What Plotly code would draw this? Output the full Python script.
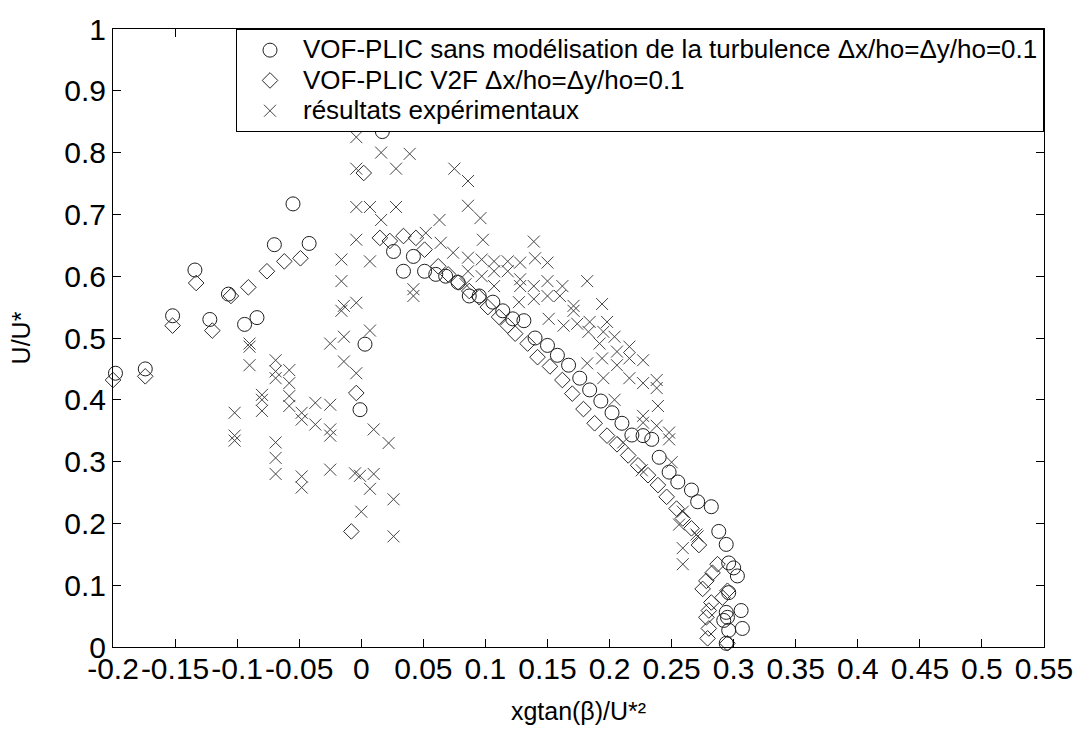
import plotly.graph_objects as go

# VOF-PLIC without turbulence model
x_sans = [-0.198, -0.174, -0.152, -0.134, -0.122, -0.107, -0.094, -0.084, -0.070, -0.055,
          -0.042, -0.001, 0.003, 0.017, 0.026, 0.034, 0.042, 0.051, 0.060, 0.068,
          0.078, 0.087, 0.095, 0.106, 0.114, 0.122, 0.131, 0.140, 0.150, 0.158,
          0.167, 0.176, 0.184, 0.193, 0.202, 0.210, 0.218, 0.227, 0.234, 0.240,
          0.248, 0.255, 0.266, 0.271, 0.282, 0.288, 0.294, 0.296, 0.300, 0.303,
          0.296, 0.306, 0.294, 0.295, 0.292, 0.307, 0.296, 0.294]
y_sans = [0.443, 0.450, 0.536, 0.610, 0.530, 0.571, 0.522, 0.533, 0.651, 0.717,
          0.653, 0.384, 0.490, 0.834, 0.640, 0.608, 0.632, 0.608, 0.603, 0.600,
          0.590, 0.568, 0.568, 0.558, 0.544, 0.531, 0.528, 0.500, 0.488, 0.472,
          0.456, 0.435, 0.416, 0.398, 0.379, 0.362, 0.343, 0.342, 0.336, 0.307,
          0.283, 0.267, 0.254, 0.235, 0.227, 0.187, 0.166, 0.136, 0.128, 0.115,
          0.088, 0.059, 0.056, 0.048, 0.043, 0.030, 0.027, 0.006]

# VOF-PLIC with V2F model
x_v2f = [-0.200, -0.174, -0.152, -0.133, -0.120, -0.105, -0.091, -0.076, -0.062, -0.049,
         -0.008, -0.004, 0.002, 0.015, 0.023, 0.034, 0.044, 0.051, 0.062, 0.070,
         0.078, 0.087, 0.095, 0.102, 0.111, 0.118, 0.124, 0.134, 0.142, 0.152,
         0.162, 0.170, 0.179, 0.188, 0.198, 0.206, 0.215, 0.223, 0.231, 0.239,
         0.246, 0.254, 0.259, 0.266, 0.272, 0.287, 0.283, 0.278, 0.275, 0.295,
         0.291, 0.282, 0.280, 0.278, 0.280, 0.279, 0.295]
y_v2f = [0.432, 0.438, 0.520, 0.589, 0.512, 0.568, 0.582, 0.608, 0.624, 0.629,
         0.187, 0.411, 0.767, 0.662, 0.657, 0.665, 0.662, 0.643, 0.616, 0.603,
         0.590, 0.576, 0.566, 0.550, 0.534, 0.520, 0.507, 0.491, 0.469, 0.454,
         0.432, 0.410, 0.385, 0.362, 0.342, 0.328, 0.310, 0.294, 0.278, 0.262,
         0.243, 0.224, 0.208, 0.192, 0.165, 0.134, 0.120, 0.107, 0.094, 0.091,
         0.080, 0.072, 0.059, 0.048, 0.030, 0.014, 0.006]

# Experimental measurements
x_exp = [-0.004, 0.016, 0.039, -0.004, 0.028, 0.075, 0.086, -0.004, 0.007, 0.028,
         0.086, 0.096, 0.016, 0.063, -0.004, 0.052, 0.064, 0.074, 0.098, 0.139,
         -0.016, 0.007, 0.086, 0.097, 0.107, 0.118, 0.128, 0.140, 0.150, 0.086,
         0.097, 0.107, 0.118, 0.128, 0.139, 0.150, 0.150, 0.042, 0.042, 0.139,
         0.127, 0.151, -0.016, -0.014, -0.004, -0.016, -0.014, 0.007, -0.025, -0.090,
         -0.090, -0.090, -0.014, -0.004, -0.069, -0.069, -0.058, -0.069, -0.058, -0.058,
         -0.080, -0.080, -0.058, -0.037, -0.025, -0.080, -0.102, -0.048, -0.048, -0.037,
         -0.025, -0.025, -0.102, -0.102, 0.010, 0.022, -0.069, -0.069, -0.069, -0.048,
         -0.025, -0.005, -0.001, 0.010, -0.048, 0.007, 0.000, 0.026, 0.026,
         0.182, 0.162, 0.160, 0.171, 0.171, 0.194, 0.163, 0.174, 0.184, 0.198,
         0.183, 0.195, 0.204, 0.192, 0.216, 0.206, 0.194, 0.182, 0.206, 0.216,
         0.227, 0.195, 0.216, 0.227, 0.238, 0.238, 0.204, 0.239, 0.227, 0.227,
         0.238, 0.248, 0.248, 0.128, 0.107, 0.084,
         0.226, 0.250, 0.259, 0.256, 0.270, 0.259, 0.259, 0.211, 0.271]
y_exp = [0.825, 0.800, 0.798, 0.774, 0.774, 0.774, 0.754, 0.712, 0.712, 0.712,
         0.714, 0.694, 0.691, 0.691, 0.659, 0.670, 0.654, 0.638, 0.659, 0.656,
         0.627, 0.624, 0.630, 0.627, 0.624, 0.624, 0.622, 0.629, 0.622, 0.608,
         0.600, 0.608, 0.608, 0.595, 0.584, 0.592, 0.568, 0.579, 0.568, 0.563,
         0.558, 0.531, 0.592, 0.552, 0.557, 0.544, 0.502, 0.512, 0.491, 0.491,
         0.486, 0.456, 0.462, 0.443, 0.464, 0.446, 0.448, 0.435, 0.427, 0.406,
         0.408, 0.400, 0.390, 0.395, 0.392, 0.382, 0.379, 0.379, 0.368, 0.360,
         0.352, 0.342, 0.342, 0.334, 0.352, 0.330, 0.331, 0.306, 0.280, 0.276,
         0.287, 0.281, 0.277, 0.280, 0.258, 0.256, 0.219, 0.239, 0.179,
         0.592, 0.584, 0.568, 0.552, 0.544, 0.555, 0.520, 0.523, 0.526, 0.526,
         0.510, 0.510, 0.502, 0.491, 0.486, 0.478, 0.467, 0.459, 0.456, 0.467,
         0.464, 0.435, 0.435, 0.427, 0.432, 0.419, 0.400, 0.390, 0.374, 0.363,
         0.358, 0.347, 0.336, 0.584, 0.584, 0.587,
         0.286, 0.299, 0.219, 0.198, 0.182, 0.160, 0.134, 0.331, 0.179]

x_ticks = [-0.2, -0.15, -0.1, -0.05, 0, 0.05, 0.1, 0.15, 0.2, 0.25, 0.3, 0.35, 0.4, 0.45, 0.5, 0.55]
x_tick_labels = ["-0.2", "-0.15", "-0.1", "-0.05", "0", "0.05", "0.1", "0.15", "0.2", "0.25",
                 "0.3", "0.35", "0.4", "0.45", "0.5", "0.55"]
y_ticks = [0, 0.1, 0.2, 0.3, 0.4, 0.5, 0.6, 0.7, 0.8, 0.9, 1]
y_tick_labels = ["0", "0.1", "0.2", "0.3", "0.4", "0.5", "0.6", "0.7", "0.8", "0.9", "1"]

series_names = [
    "VOF-PLIC sans modélisation de la turbulence Δx/ho=Δy/ho=0.1",
    "VOF-PLIC V2F Δx/ho=Δy/ho=0.1",
    "résultats expérimentaux",
]

FONT = "Liberation Sans, Arial, sans-serif"


def legend_label(text):
    # larger glyphs than the legend's base font, which keeps rows compact
    return '<span style="font-size:26px">' + text + "</span>"


fig = go.Figure()
fig.add_trace(go.Scatter(
    x=x_sans, y=y_sans, mode="markers", cliponaxis=False,
    name=legend_label(series_names[0]),
    marker=dict(symbol="circle-open", size=14, color="#1e1e1e", line=dict(width=1, color="#1e1e1e")),
))
fig.add_trace(go.Scatter(
    x=x_v2f, y=y_v2f, mode="markers", cliponaxis=False,
    name=legend_label(series_names[1]),
    marker=dict(symbol="diamond-open", size=12, color="#2a2a2a", line=dict(width=1, color="#2a2a2a")),
))
fig.add_trace(go.Scatter(
    x=x_exp, y=y_exp, mode="markers", cliponaxis=False,
    name=legend_label(series_names[2]),
    marker=dict(symbol="x-thin-open", size=12, color="#444444", line=dict(width=1, color="#444444")),
))

axis_common = dict(
    showline=True, linecolor="black", linewidth=1, mirror="ticks",
    ticks="inside", ticklen=8, tickwidth=1, tickcolor="black",
    showgrid=False, zeroline=False,
    tickfont=dict(family=FONT, size=30, color="black"),
)

fig.update_xaxes(
    range=[-0.2, 0.55], tickmode="array", tickvals=x_ticks, ticktext=x_tick_labels,
    ticklabelstandoff=-5,
    title=dict(text="xgtan(β)/U*²", font=dict(family=FONT, size=25, color="black"), standoff=18),
    **axis_common,
)
fig.update_yaxes(
    range=[0, 1], tickmode="array", tickvals=y_ticks, ticktext=y_tick_labels,
    title=dict(text="U/U*", font=dict(family=FONT, size=25, color="black"), standoff=26),
    **axis_common,
)

fig.update_layout(
    width=1085, height=742,
    margin=dict(l=113, r=34, t=22, b=95),
    paper_bgcolor="white", plot_bgcolor="white",
    font=dict(family=FONT, color="black"),
    showlegend=True,
    legend=dict(
        x=1, y=1, xanchor="right", yanchor="top",
        bgcolor="white", bordercolor="black", borderwidth=1,
        font=dict(family=FONT, size=21, color="black"),
        itemwidth=56, tracegroupgap=0,
    ),
)

fig.write_html("out.html")
